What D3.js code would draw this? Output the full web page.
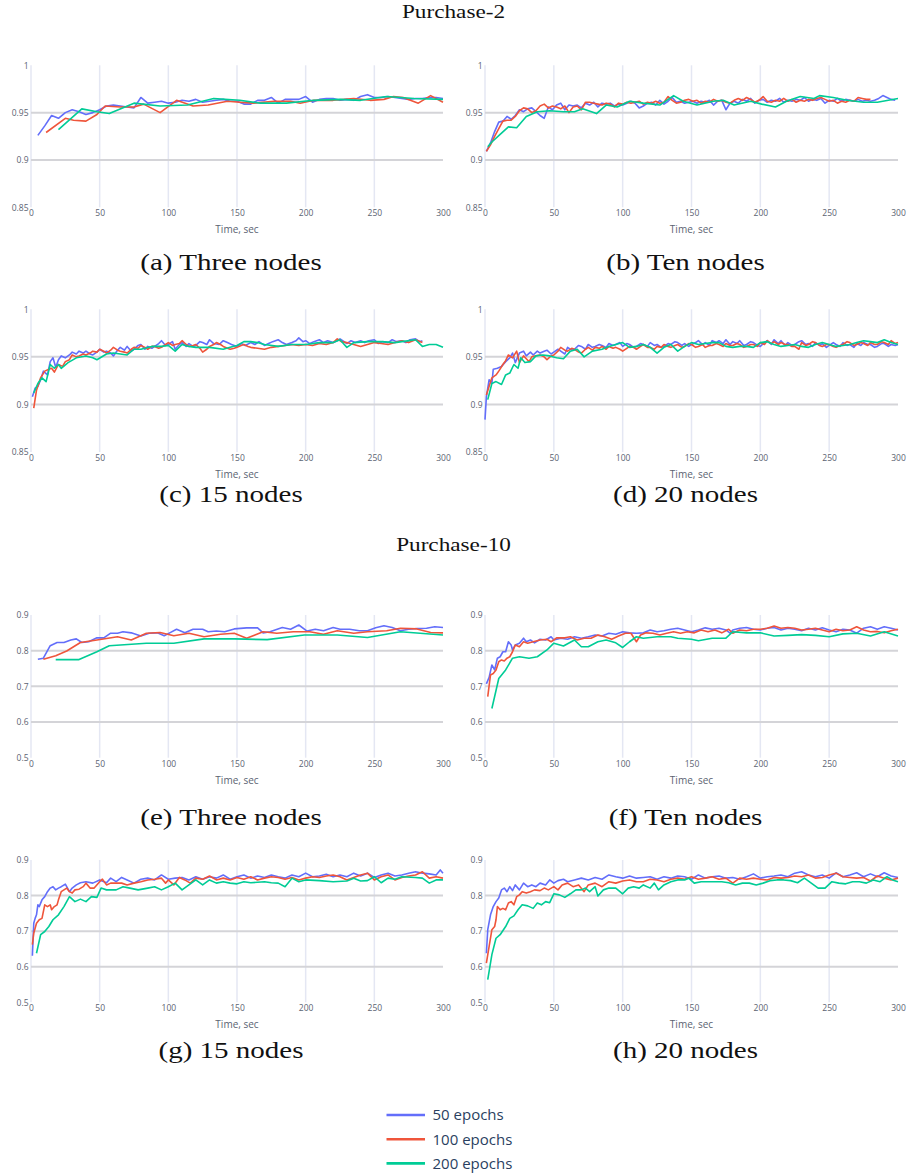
<!DOCTYPE html>
<html lang="en">
<head>
<meta charset="utf-8">
<script src="https://d3js.org/d3.v7.min.js"></script>
<title>Purchase accuracy over time</title>
<style>
  body{margin:0;background:#fff;}
  .tick text{font-family:"Open Sans",sans-serif;font-size:8.5px;fill:#5b6372;}
</style>
</head>
<body>
<script>

// Shared labels and ticks

var xTicks = [0, 50, 100, 150, 200, 250, 300];
var yTicksP2 = [0.85, 0.9, 0.95, 1];
var yTicksP10 = [0.5, 0.6, 0.7, 0.8, 0.9];
var seriesNames = ["50 epochs", "100 epochs", "200 epochs"];
var seriesColors = ["#636efa", "#ef553b", "#00cc96"];
var groupTitles = ["Purchase-2", "Purchase-10"];
var captions = ["(a) Three nodes", "(b) Ten nodes", "(c) 15 nodes", "(d) 20 nodes",
                "(e) Three nodes", "(f) Ten nodes", "(g) 15 nodes", "(h) 20 nodes"];

// Data: [time, accuracy]

// (a) Purchase-2, three nodes
var a50 = [[5,.926],[10,.936],[15,.947],[20,.944],[25,.950],[30,.953],[35,.951],[40,.948],[45,.950],[50,.953],[55,.957],[60,.958],[65,.957],[70,.956],[75,.955],[80,.966],[85,.960],[90,.961],[95,.962],[100,.960],[105,.961],[110,.963],[115,.962],[120,.964],[125,.961],[130,.962],[135,.963],[140,.964],[145,.962],[150,.962],[155,.959],[160,.959],[165,.963],[170,.963],[175,.966],[180,.960],[185,.964],[190,.964],[195,.964],[200,.967],[205,.961],[210,.964],[215,.965],[220,.965],[225,.963],[230,.964],[235,.963],[240,.967],[245,.969],[250,.966],[255,.966],[260,.967],[265,.966],[270,.965],[275,.964],[280,.965],[285,.965],[290,.966],[295,.966],[300,.965]];
var a100 = [[11,.929],[25,.944],[31,.942],[40,.941],[48,.948],[54,.957],[65,.956],[75,.956],[82,.959],[94,.950],[106,.963],[118,.957],[129,.958],[143,.962],[152,.961],[162,.960],[177,.962],[189,.962],[196,.960],[206,.963],[220,.963],[235,.965],[247,.963],[257,.964],[264,.967],[271,.966],[282,.960],[291,.968],[300,.961]];
var a200 = [[20,.932],[37,.954],[48,.951],[57,.949],[75,.960],[94,.957],[114,.958],[133,.965],[152,.963],[167,.960],[186,.960],[206,.963],[225,.964],[240,.963],[259,.967],[279,.965],[300,.964]];

// (b) Purchase-2, ten nodes
var b50 = [[1,.909],[4,.918],[7,.930],[10,.940],[13,.941],[16,.946],[19,.943],[22,.947],[25,.953],[28,.951],[31,.954],[34,.955],[37,.951],[40,.947],[43,.944],[46,.956],[49,.953],[52,.958],[55,.960],[58,.953],[61,.958],[64,.957],[67,.958],[70,.955],[73,.960],[76,.958],[79,.961],[82,.956],[85,.960],[88,.959],[91,.960],[94,.957],[97,.959],[100,.958],[103,.960],[106,.962],[109,.960],[112,.955],[115,.957],[118,.960],[121,.961],[124,.958],[127,.963],[130,.959],[133,.962],[136,.966],[139,.961],[142,.962],[145,.960],[148,.961],[151,.962],[154,.960],[157,.962],[160,.961],[163,.963],[166,.958],[169,.962],[172,.963],[175,.953],[178,.960],[181,.962],[184,.960],[187,.964],[190,.962],[193,.965],[196,.960],[199,.963],[202,.964],[205,.961],[208,.963],[211,.962],[214,.965],[217,.961],[220,.963],[223,.962],[226,.964],[229,.963],[232,.966],[235,.962],[238,.964],[241,.963],[244,.965],[247,.960],[250,.963],[253,.962],[256,.965],[259,.962],[262,.964],[265,.963],[268,.962],[271,.964],[274,.962],[277,.963],[280,.962],[283,.963],[286,.965],[289,.968],[292,.966],[295,.964],[298,.963]];
var b100 = [[1,.909],[4,.916],[7,.925],[10,.933],[13,.941],[16,.942],[19,.942],[22,.946],[25,.952],[28,.955],[31,.954],[34,.950],[37,.952],[40,.957],[43,.959],[46,.955],[49,.957],[52,.956],[55,.954],[58,.957],[61,.950],[64,.956],[67,.957],[70,.953],[73,.961],[76,.961],[79,.960],[82,.959],[85,.958],[88,.960],[91,.959],[94,.956],[97,.960],[100,.959],[103,.961],[106,.960],[109,.961],[112,.962],[115,.959],[118,.961],[121,.960],[124,.962],[127,.960],[130,.961],[133,.967],[136,.963],[139,.960],[142,.961],[145,.963],[148,.964],[151,.962],[154,.963],[157,.960],[160,.962],[163,.961],[166,.964],[169,.962],[172,.963],[175,.961],[178,.960],[181,.963],[184,.965],[187,.963],[190,.966],[193,.964],[196,.961],[199,.963],[202,.967],[205,.962],[208,.961],[211,.963],[214,.962],[217,.965],[220,.962],[223,.964],[226,.961],[229,.963],[232,.962],[235,.964],[238,.963],[241,.965],[244,.966],[247,.964],[250,.962],[253,.963],[256,.960],[259,.962],[262,.961],[265,.963],[268,.962],[271,.966],[274,.965],[277,.964],[280,.964]];
var b200 = [[2,.914],[5,.919],[11,.927],[17,.935],[23,.934],[30,.946],[38,.951],[47,.952],[57,.951],[65,.951],[71,.954],[81,.949],[88,.958],[96,.956],[105,.962],[115,.960],[127,.958],[137,.968],[144,.962],[154,.958],[166,.962],[173,.963],[181,.958],[193,.962],[201,.959],[211,.956],[219,.962],[229,.967],[239,.965],[243,.968],[253,.966],[263,.963],[275,.961],[285,.961],[300,.965]];

// (c) Purchase-2, 15 nodes
var c50 = [[1,.908],[3,.917],[5,.919],[7,.926],[9,.935],[12,.931],[14,.945],[16,.949],[18,.939],[20,.947],[22,.951],[25,.949],[28,.952],[30,.955],[33,.953],[35,.956],[38,.954],[40,.956],[43,.953],[45,.952],[48,.955],[50,.958],[53,.955],[55,.956],[58,.954],[60,.951],[63,.957],[65,.960],[68,.957],[70,.961],[73,.956],[75,.958],[78,.962],[80,.963],[83,.958],[85,.961],[88,.959],[90,.961],[93,.964],[95,.967],[98,.962],[100,.963],[103,.966],[105,.958],[108,.963],[110,.965],[113,.961],[115,.964],[118,.961],[120,.962],[123,.966],[125,.965],[128,.963],[130,.968],[133,.964],[137,.963],[140,.967],[143,.965],[146,.963],[150,.961],[153,.964],[156,.962],[160,.965],[163,.963],[166,.966],[170,.962],[173,.964],[176,.966],[180,.968],[183,.965],[186,.963],[190,.965],[193,.967],[195,.970],[198,.966],[200,.967],[203,.964],[206,.966],[210,.968],[213,.965],[216,.967],[220,.965],[223,.967],[225,.969],[228,.966],[230,.964],[233,.967],[236,.965],[240,.967],[243,.965],[246,.967],[250,.968],[253,.964],[256,.966],[260,.965],[263,.968],[266,.966],[270,.967],[273,.965],[276,.968],[280,.969],[283,.966],[285,.967]];
var c100 = [[2,.896],[4,.915],[7,.928],[10,.935],[13,.937],[15,.938],[17,.934],[20,.942],[23,.940],[25,.945],[28,.947],[30,.952],[33,.950],[35,.951],[38,.953],[40,.952],[43,.954],[45,.956],[48,.955],[50,.958],[53,.956],[55,.954],[58,.957],[60,.960],[63,.957],[65,.956],[68,.955],[70,.954],[73,.958],[75,.960],[78,.959],[80,.962],[83,.960],[85,.958],[88,.961],[90,.961],[93,.959],[95,.960],[98,.963],[100,.965],[103,.962],[105,.963],[108,.964],[110,.967],[113,.963],[115,.961],[118,.962],[120,.963],[123,.959],[125,.955],[128,.958],[130,.961],[133,.963],[135,.965],[138,.963],[140,.961],[143,.959],[145,.958],[148,.959],[150,.960],[153,.962],[155,.963],[158,.961],[160,.960],[165,.959],[170,.958],[175,.960],[180,.961],[185,.962],[190,.963],[195,.962],[200,.963],[205,.962],[210,.964],[215,.963],[220,.965],[223,.969],[226,.966],[230,.965],[235,.963],[240,.961],[245,.963],[250,.965],[255,.964],[260,.963],[265,.965],[270,.967],[275,.965],[280,.968],[285,.965]];
var c200 = [[2,.912],[5,.922],[8,.928],[11,.924],[14,.942],[17,.938],[20,.942],[22,.938],[27,.944],[33,.949],[40,.951],[45,.949],[48,.947],[55,.953],[60,.954],[70,.952],[75,.958],[80,.958],[88,.961],[95,.961],[100,.962],[105,.956],[110,.963],[115,.961],[120,.960],[130,.960],[140,.958],[145,.960],[150,.962],[155,.966],[160,.966],[165,.965],[170,.963],[180,.961],[190,.963],[200,.963],[210,.965],[220,.965],[225,.968],[230,.960],[235,.965],[245,.966],[255,.966],[265,.965],[270,.966],[280,.968],[285,.961],[290,.963],[295,.963],[300,.960]];

// (d) Purchase-2, 20 nodes
var d50 = [[0,.884],[1,.908],[3,.926],[5,.922],[6,.937],[9,.938],[12,.940],[15,.945],[18,.949],[20,.954],[22,.944],[25,.954],[28,.956],[30,.951],[33,.955],[35,.952],[38,.956],[40,.954],[43,.956],[45,.957],[48,.953],[50,.955],[53,.958],[55,.956],[58,.953],[60,.960],[63,.957],[65,.958],[68,.962],[70,.961],[73,.958],[75,.963],[78,.960],[80,.961],[83,.963],[85,.962],[88,.960],[90,.964],[93,.962],[95,.963],[98,.965],[100,.961],[103,.964],[105,.963],[108,.960],[110,.961],[113,.964],[115,.963],[118,.961],[120,.965],[123,.962],[125,.963],[128,.960],[130,.961],[133,.964],[135,.963],[138,.966],[140,.965],[143,.962],[145,.964],[148,.961],[150,.963],[153,.965],[155,.967],[158,.963],[160,.965],[163,.962],[165,.967],[168,.965],[170,.967],[173,.964],[175,.968],[178,.963],[180,.966],[183,.964],[185,.967],[188,.962],[190,.963],[193,.966],[195,.965],[198,.962],[200,.961],[203,.965],[205,.967],[208,.963],[210,.968],[213,.964],[215,.967],[218,.962],[220,.965],[223,.962],[225,.963],[228,.966],[230,.967],[233,.963],[235,.964],[238,.961],[240,.965],[243,.962],[245,.964],[248,.960],[250,.962],[253,.965],[255,.963],[258,.961],[260,.965],[263,.962],[265,.963],[268,.960],[270,.964],[273,.962],[275,.965],[278,.963],[280,.963],[283,.960],[285,.961],[288,.964],[290,.964],[293,.961],[295,.963],[298,.962],[300,.963]];
var d100 = [[1,.910],[3,.919],[5,.928],[8,.931],[10,.935],[13,.942],[15,.946],[17,.952],[20,.949],[23,.956],[25,.944],[28,.951],[30,.948],[32,.945],[34,.950],[36,.951],[40,.952],[43,.950],[45,.947],[48,.951],[50,.952],[53,.956],[55,.960],[58,.957],[60,.956],[63,.959],[65,.958],[68,.955],[70,.954],[73,.958],[75,.960],[78,.957],[80,.960],[83,.959],[85,.961],[88,.958],[90,.961],[93,.959],[95,.960],[98,.958],[100,.956],[103,.959],[105,.961],[108,.960],[110,.958],[113,.961],[115,.963],[118,.960],[120,.960],[123,.958],[125,.961],[128,.960],[130,.963],[133,.961],[135,.960],[138,.962],[140,.963],[143,.960],[145,.961],[148,.964],[150,.963],[153,.960],[155,.961],[158,.963],[160,.960],[163,.962],[165,.962],[168,.964],[170,.963],[173,.961],[175,.964],[178,.962],[180,.962],[183,.964],[185,.963],[188,.960],[190,.961],[193,.963],[195,.963],[198,.961],[200,.965],[203,.963],[205,.967],[208,.964],[210,.966],[213,.963],[215,.965],[218,.963],[220,.963],[223,.961],[225,.961],[228,.958],[230,.965],[233,.962],[235,.963],[238,.966],[240,.965],[243,.962],[245,.961],[248,.963],[250,.963],[253,.961],[255,.960],[258,.962],[260,.963],[263,.966],[265,.965],[268,.962],[270,.963],[273,.965],[275,.964],[278,.962],[280,.965],[283,.963],[285,.963],[288,.966],[290,.965],[293,.963],[295,.967],[298,.964],[300,.965]];
var d200 = [[2,.905],[5,.922],[8,.924],[12,.921],[15,.931],[18,.933],[21,.942],[24,.938],[26,.949],[29,.944],[33,.945],[37,.951],[42,.952],[47,.951],[52,.949],[57,.948],[62,.956],[67,.958],[72,.950],[78,.956],[85,.958],[90,.961],[95,.963],[100,.965],[105,.960],[110,.961],[115,.963],[120,.960],[125,.954],[130,.960],[135,.963],[140,.956],[145,.961],[150,.965],[155,.963],[160,.964],[165,.965],[170,.965],[175,.961],[180,.960],[185,.961],[190,.961],[195,.960],[200,.965],[205,.966],[210,.963],[215,.961],[220,.962],[225,.963],[230,.961],[235,.960],[240,.963],[245,.965],[250,.963],[255,.961],[260,.962],[265,.963],[270,.965],[275,.967],[280,.966],[285,.965],[290,.968],[295,.965],[300,.963]];

// (e) Purchase-10, three nodes
var e50 = [[5,.776],[9,.779],[14,.814],[19,.823],[24,.823],[29,.830],[33,.833],[37,.823],[42,.825],[48,.836],[53,.836],[58,.849],[63,.849],[67,.853],[73,.850],[80,.841],[86,.849],[92,.850],[97,.842],[101,.850],[106,.860],[112,.850],[118,.860],[125,.860],[129,.853],[135,.855],[141,.853],[148,.861],[157,.864],[165,.864],[169,.850],[174,.853],[183,.865],[189,.860],[195,.872],[201,.855],[207,.860],[213,.856],[220,.865],[225,.860],[232,.860],[239,.856],[245,.856],[251,.864],[257,.870],[263,.865],[269,.856],[275,.860],[281,.862],[288,.863],[294,.867],[300,.865]];
var e100 = [[9,.776],[18,.786],[26,.799],[36,.823],[48,.830],[63,.839],[73,.830],[84,.849],[94,.851],[104,.842],[115,.849],[126,.839],[138,.846],[148,.849],[157,.835],[169,.853],[179,.849],[191,.853],[203,.853],[213,.846],[223,.856],[235,.849],[245,.853],[259,.856],[269,.863],[281,.861],[291,.851],[300,.850]];
var e200 = [[18,.775],[35,.775],[48,.797],[57,.814],[84,.821],[104,.821],[126,.833],[148,.833],[172,.831],[199,.844],[223,.844],[245,.837],[269,.853],[300,.844]];

// (f) Purchase-10, ten nodes
var f50 = [[1,.707],[3,.725],[5,.760],[7,.746],[9,.779],[11,.783],[13,.797],[15,.797],[17,.825],[19,.816],[20,.802],[22,.816],[25,.821],[28,.835],[30,.825],[33,.830],[36,.822],[40,.832],[44,.830],[48,.839],[50,.830],[55,.835],[60,.832],[65,.839],[70,.835],[75,.839],[80,.844],[85,.841],[90,.849],[95,.846],[100,.853],[105,.850],[110,.849],[115,.850],[120,.858],[125,.853],[130,.856],[135,.860],[140,.863],[145,.858],[150,.853],[155,.858],[160,.864],[165,.860],[170,.863],[175,.858],[178,.849],[180,.858],[185,.863],[190,.865],[195,.860],[200,.858],[205,.863],[210,.865],[215,.858],[220,.863],[225,.860],[230,.856],[235,.863],[240,.858],[245,.864],[250,.858],[255,.853],[260,.860],[265,.858],[270,.849],[275,.863],[280,.867],[285,.860],[290,.867],[295,.863],[300,.858]];
var f100 = [[2,.671],[4,.732],[6,.736],[8,.746],[10,.769],[12,.774],[14,.771],[16,.779],[18,.783],[20,.797],[22,.816],[25,.811],[28,.825],[31,.821],[35,.825],[40,.830],[45,.832],[48,.825],[52,.836],[58,.836],[62,.839],[67,.830],[72,.835],[77,.835],[82,.844],[87,.839],[92,.832],[97,.841],[102,.849],[106,.849],[110,.825],[113,.844],[117,.850],[122,.849],[127,.844],[132,.849],[137,.853],[142,.849],[147,.853],[152,.850],[157,.858],[162,.853],[167,.858],[172,.850],[177,.860],[180,.849],[185,.858],[190,.856],[195,.860],[200,.860],[205,.863],[210,.869],[215,.863],[220,.865],[225,.863],[230,.858],[235,.860],[240,.863],[245,.858],[250,.853],[255,.860],[260,.856],[265,.858],[270,.867],[275,.858],[280,.853],[285,.854],[290,.850],[295,.856],[300,.860]];
var f200 = [[5,.638],[10,.722],[15,.746],[20,.779],[25,.783],[32,.779],[38,.783],[45,.802],[50,.821],[57,.813],[65,.830],[70,.811],[75,.811],[82,.825],[88,.830],[95,.822],[100,.809],[105,.825],[110,.839],[115,.835],[125,.839],[135,.839],[140,.835],[150,.832],[155,.828],[165,.835],[175,.835],[180,.853],[190,.850],[200,.850],[210,.841],[220,.843],[230,.845],[240,.843],[250,.839],[260,.847],[270,.849],[280,.841],[290,.853],[300,.841]];

// (g) Purchase-10, 15 nodes
var g50 = [[1,.631],[2,.722],[3,.736],[4,.746],[5,.774],[6,.769],[8,.788],[10,.797],[12,.811],[14,.821],[16,.825],[18,.816],[20,.821],[22,.825],[25,.832],[28,.811],[30,.821],[33,.830],[36,.836],[40,.839],[45,.835],[50,.844],[55,.836],[58,.849],[62,.839],[66,.851],[70,.844],[75,.835],[80,.846],[85,.849],[90,.844],[95,.858],[100,.846],[105,.849],[110,.851],[115,.844],[120,.853],[125,.846],[130,.853],[135,.849],[140,.858],[145,.846],[150,.853],[155,.858],[160,.849],[165,.855],[170,.851],[175,.858],[180,.853],[185,.849],[190,.858],[195,.853],[200,.863],[205,.853],[210,.855],[215,.860],[220,.853],[225,.858],[230,.853],[235,.863],[240,.855],[245,.863],[250,.851],[255,.858],[260,.863],[265,.855],[270,.858],[275,.863],[280,.867],[285,.863],[290,.861],[295,.858],[298,.872],[300,.863]];
var g100 = [[1,.662],[2,.694],[4,.722],[6,.732],[8,.736],[10,.774],[12,.769],[14,.774],[15,.760],[17,.769],[19,.774],[20,.788],[22,.811],[24,.816],[26,.821],[28,.811],[30,.807],[32,.816],[35,.818],[38,.825],[40,.835],[43,.821],[46,.821],[50,.839],[52,.846],[55,.830],[58,.835],[62,.835],[66,.835],[70,.830],[75,.835],[80,.839],[85,.844],[90,.846],[95,.849],[98,.835],[100,.844],[104,.830],[108,.851],[112,.844],[116,.835],[120,.849],[125,.846],[130,.855],[135,.844],[140,.849],[145,.844],[150,.851],[155,.846],[160,.853],[165,.844],[170,.849],[175,.853],[180,.851],[185,.846],[190,.851],[195,.844],[200,.849],[205,.853],[210,.851],[215,.855],[220,.858],[225,.853],[230,.844],[235,.851],[240,.858],[245,.863],[250,.844],[255,.853],[260,.858],[265,.844],[270,.851],[275,.855],[280,.858],[285,.867],[290,.849],[295,.853],[300,.849]];
var g200 = [[4,.638],[7,.690],[10,.699],[13,.713],[16,.732],[20,.746],[24,.769],[28,.797],[32,.783],[36,.790],[40,.783],[44,.797],[48,.795],[51,.821],[55,.816],[62,.816],[67,.825],[72,.821],[78,.816],[85,.821],[90,.825],[95,.816],[100,.825],[105,.835],[110,.816],[115,.830],[120,.844],[125,.830],[130,.844],[135,.835],[140,.839],[145,.835],[150,.833],[155,.839],[160,.836],[170,.839],[175,.836],[180,.835],[185,.825],[190,.849],[195,.839],[200,.844],[210,.842],[220,.839],[230,.841],[235,.849],[240,.841],[245,.842],[250,.853],[255,.836],[260,.849],[265,.846],[270,.853],[280,.851],[285,.849],[290,.835],[295,.844],[300,.844]];

// (h) Purchase-10, 20 nodes
var h50 = [[1,.638],[2,.704],[4,.746],[6,.769],[8,.783],[10,.793],[12,.816],[14,.821],[16,.811],[18,.825],[20,.814],[22,.830],[25,.816],[28,.835],[31,.825],[34,.830],[37,.825],[40,.835],[44,.830],[47,.844],[50,.835],[53,.842],[57,.846],[60,.839],[65,.844],[70,.849],[75,.844],[80,.851],[85,.846],[90,.858],[95,.853],[100,.849],[105,.855],[110,.849],[115,.851],[120,.853],[125,.846],[130,.853],[135,.849],[140,.855],[145,.853],[150,.846],[155,.858],[160,.849],[165,.853],[170,.855],[175,.849],[180,.851],[185,.846],[190,.853],[195,.861],[200,.849],[205,.853],[210,.855],[215,.858],[220,.853],[225,.863],[230,.867],[235,.858],[240,.853],[245,.858],[250,.849],[255,.864],[260,.853],[265,.858],[270,.864],[275,.853],[280,.861],[285,.853],[290,.864],[295,.855],[300,.851]];
var h100 = [[1,.610],[3,.657],[5,.704],[7,.713],[8,.732],[9,.769],[11,.760],[13,.764],[15,.760],[17,.779],[19,.783],[21,.774],[23,.797],[25,.802],[27,.811],[30,.807],[33,.811],[36,.816],[40,.814],[43,.821],[46,.816],[50,.825],[53,.816],[56,.830],[60,.835],[64,.825],[68,.830],[72,.811],[75,.830],[80,.835],[85,.825],[90,.839],[95,.835],[100,.841],[105,.844],[110,.839],[115,.839],[120,.846],[125,.844],[130,.839],[135,.846],[140,.849],[145,.846],[150,.853],[155,.846],[160,.849],[165,.853],[170,.846],[175,.849],[180,.835],[185,.849],[190,.846],[195,.849],[200,.846],[205,.844],[210,.851],[215,.849],[220,.851],[225,.855],[230,.853],[235,.858],[240,.849],[245,.851],[250,.858],[255,.863],[260,.853],[265,.851],[270,.849],[275,.851],[280,.841],[285,.855],[290,.849],[295,.844],[300,.849]];
var h200 = [[2,.564],[5,.634],[8,.680],[11,.690],[15,.713],[18,.736],[21,.743],[24,.760],[27,.774],[31,.771],[35,.764],[38,.779],[41,.774],[44,.783],[47,.780],[50,.805],[54,.802],[58,.795],[62,.805],[66,.816],[70,.816],[73,.821],[76,.811],[80,.825],[82,.799],[86,.816],[90,.821],[95,.821],[100,.805],[104,.821],[108,.825],[112,.821],[115,.830],[120,.821],[123,.835],[126,.816],[130,.830],[135,.839],[140,.844],[145,.844],[148,.849],[152,.835],[157,.839],[162,.839],[167,.839],[172,.839],[177,.836],[182,.830],[187,.835],[192,.835],[197,.830],[202,.835],[207,.842],[212,.844],[217,.844],[222,.842],[227,.836],[232,.849],[237,.835],[242,.821],[247,.821],[252,.839],[257,.835],[262,.833],[267,.839],[272,.839],[277,.835],[282,.844],[287,.839],[292,.853],[296,.844],[300,.839]];

// Layout

var width = 907, height = 1175;
var cols = [{left: 31, right: 443}, {left: 485, right: 898}];
var rows = [{top: 65.3, bottom: 207.3}, {top: 309.3, bottom: 452},
            {top: 615, bottom: 757.7}, {top: 860, bottom: 1002.3}];
var captionY = [270, 502, 825, 1058];
var titleY = [18, 551];
var serifStretch = 1.29;

var panels = [
  {row: 0, col: 0, ticks: yTicksP2, data: [a50, a100, a200]},
  {row: 0, col: 1, ticks: yTicksP2, data: [b50, b100, b200]},
  {row: 1, col: 0, ticks: yTicksP2, data: [c50, c100, c200]},
  {row: 1, col: 1, ticks: yTicksP2, data: [d50, d100, d200]},
  {row: 2, col: 0, ticks: yTicksP10, data: [e50, e100, e200]},
  {row: 2, col: 1, ticks: yTicksP10, data: [f50, f100, f200]},
  {row: 3, col: 0, ticks: yTicksP10, data: [g50, g100, g200]},
  {row: 3, col: 1, ticks: yTicksP10, data: [h50, h100, h200]}
];

var svg = d3.select("body").append("svg")
  .attr("width", width).attr("height", height)
  .style("background", "#fff");

function serifText(txt, cx, y, size) {
  svg.append("g").attr("transform", "translate(" + cx + "," + y + ") scale(" + serifStretch + ",1)")
    .append("text")
    .attr("text-anchor", "middle")
    .style("font-family", "'Liberation Serif', serif")
    .style("font-size", size + "px")
    .style("fill", "#111")
    .text(txt);
}

// Panels

panels.forEach(function(p, i) {
  var c = cols[p.col], r = rows[p.row];
  var x = d3.scaleLinear().domain([0, 300]).range([c.left, c.right]);
  var y = d3.scaleLinear().domain(d3.extent(p.ticks)).range([r.bottom, r.top]);
  var g = svg.append("g");

  // vertical grid
  g.selectAll(".vgrid").data(xTicks.slice(0, -1)).enter().append("line")
    .attr("x1", function(d) { return x(d); }).attr("x2", function(d) { return x(d); })
    .attr("y1", r.top).attr("y2", r.bottom)
    .style("stroke", "#e4e7f3").style("stroke-width", 1.5);

  // horizontal grid, inner ticks only
  g.selectAll(".hgrid").data(p.ticks.slice(1, -1)).enter().append("line")
    .attr("x1", c.left).attr("x2", c.right)
    .attr("y1", function(d) { return y(d); }).attr("y2", function(d) { return y(d); })
    .style("stroke", "#d4d4d8").style("stroke-width", 2);

  // X Axis
  var xAxis = d3.axisBottom(x).tickValues(xTicks).tickSize(0).tickPadding(3);
  g.append("g").attr("transform", "translate(0," + r.bottom + ")").call(xAxis)
    .call(function(a) { a.select(".domain").remove(); });

  // Y Axis
  var yAxis = d3.axisLeft(y).tickValues(p.ticks).tickSize(0).tickPadding(2.5)
    .tickFormat(function(d) { return String(d); });
  g.append("g").attr("transform", "translate(" + c.left + ",0)").call(yAxis)
    .call(function(a) { a.select(".domain").remove(); });

  g.append("text")
    .attr("x", (c.left + c.right) / 2).attr("y", r.bottom + 26)
    .attr("text-anchor", "middle")
    .style("font-family", "'Open Sans', sans-serif").style("font-size", "10px")
    .style("fill", "#5b6372")
    .text("Time, sec");

  // lines
  var line = d3.line().x(function(d) { return x(d[0]); }).y(function(d) { return y(d[1]); });
  p.data.forEach(function(s, k) {
    g.append("path").datum(s)
      .attr("d", line)
      .style("fill", "none")
      .style("stroke", seriesColors[k])
      .style("stroke-width", 1.6)
      .style("stroke-linejoin", "round");
  });

  serifText(captions[i], (c.left + c.right) / 2 - 6, captionY[p.row], 22.5);
});

// Group titles

serifText(groupTitles[0], 453.5, titleY[0], 18);
serifText(groupTitles[1], 453.5, titleY[1], 18);

// Legend

var legend = svg.append("g").attr("transform", "translate(386.5,1115)");
seriesNames.forEach(function(name, k) {
  var row = legend.append("g").attr("transform", "translate(0," + (k * 24.2) + ")");
  row.append("line").attr("x1", 0).attr("x2", 38.5).attr("y1", 0).attr("y2", 0)
    .style("stroke", seriesColors[k]).style("stroke-width", 2.6);
  row.append("text").attr("x", 46).attr("y", 5.3)
    .style("font-family", "'Open Sans', sans-serif").style("font-size", "15px")
    .style("fill", "#2a3f5f")
    .text(name);
});

</script>
</body>
</html>
